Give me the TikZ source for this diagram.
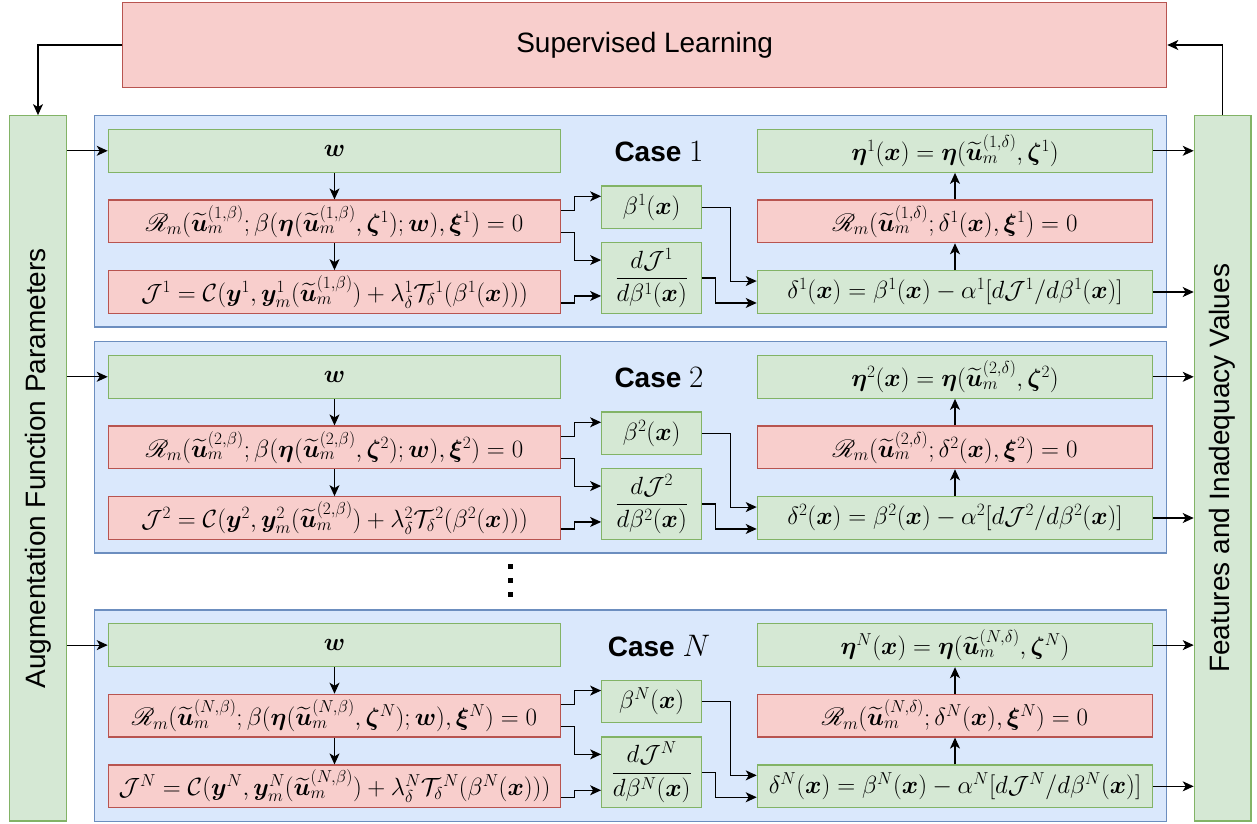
\documentclass[tikz,border=0pt]{standalone}
\usepackage{amsmath,amssymb}
\usepackage{graphicx}
\usepackage{bm}
\usepackage{mathrsfs}
\usepackage[no-math]{fontspec}
\newfontfamily\sansf{Liberation Sans}
\usetikzlibrary{arrows.meta,calc}
\definecolor{gfill}{HTML}{D5E8D4}
\definecolor{gdraw}{HTML}{82B366}
\definecolor{rfill}{HTML}{F8CECC}
\definecolor{rdraw}{HTML}{B85450}
\definecolor{bfill}{HTML}{DAE8FC}
\definecolor{bdraw}{HTML}{6C8EBF}
\tikzset{
  gbox/.style={draw=gdraw, fill=gfill, line width=1.2pt, inner sep=0pt, rectangle, font=\fontsize{24}{28}\selectfont},
  rbox/.style={draw=rdraw, fill=rfill, line width=1.2pt, inner sep=0pt, rectangle, font=\fontsize{24}{28}\selectfont},
  panel/.style={draw=bdraw, fill=bfill, line width=1.2pt, inner sep=0pt, rectangle},
  arr/.style={-{Stealth[length=11pt,width=10pt,inset=3pt]}, line width=1.1pt, black},
  bigtext/.style={font=\sansf\fontsize{28}{32}\selectfont},
  casetext/.style={font=\sansf\bfseries\fontsize{28}{32}\selectfont},
}
\newcommand\drawcase[3]{%
\begin{scope}[yshift=#1]
  \node[panel, minimum width=1072.4pt, minimum height=211.3pt] (P#3) at (630.5,221.35) {};
  \node[gbox, minimum width=452.4pt, minimum height=43pt] (w#3) at (334.5,150.8) {$\bm{w}$};
  \node[rbox, minimum width=452.4pt, minimum height=42.7pt] (R#3) at (334.5,221.35)
    {$\mathscr{R}_m(\widetilde{\bm{u}}_m^{(#2,\beta)};\beta(\bm{\eta}(\widetilde{\bm{u}}_m^{(#2,\beta)},\bm{\zeta}^{#2});\bm{w}),\bm{\xi}^{#2})=0$};
  \node[rbox, minimum width=452.4pt, minimum height=42.6pt] (J#3) at (334.5,292)
    {$\mathcal{J}^{#2}=\mathcal{C}(\bm{y}^{#2},\bm{y}_m^{#2}(\widetilde{\bm{u}}_m^{(#2,\beta)})+\lambda_\delta^{#2}\mathcal{T}_\delta{}^{#2}(\beta^{#2}(\bm{x})))$};
  \node[gbox, minimum width=100pt, minimum height=42.3pt] (b#3) at (651.7,207.15) {$\beta^{#2}(\bm{x})$};
  \node[gbox, minimum width=100pt, minimum height=70.6pt] (dJ#3) at (651.7,278) {$\dfrac{d\mathcal{J}^{#2}}{d\beta^{#2}(\bm{x})}$};
  \node[gbox, minimum width=395.4pt, minimum height=43pt] (eta#3) at (955,150.8)
    {$\bm{\eta}^{#2}(\bm{x})=\bm{\eta}(\widetilde{\bm{u}}_m^{(#2,\delta)},\bm{\zeta}^{#2})$};
  \node[rbox, minimum width=395.4pt, minimum height=42.7pt] (Rd#3) at (955,221.35)
    {$\mathscr{R}_m(\widetilde{\bm{u}}_m^{(#2,\delta)};\delta^{#2}(\bm{x}),\bm{\xi}^{#2})=0$};
  \node[gbox, minimum width=395.4pt, minimum height=42.6pt] (d#3) at (955,292)
    {$\delta^{#2}(\bm{x})=\beta^{#2}(\bm{x})-\alpha^{#2}[d\mathcal{J}^{#2}/d\beta^{#2}(\bm{x})]$};
  \node[casetext] (L#3) at (659,152) {Case \scalebox{1.25}{$#2$}};
  \draw[arr] (w#3) -- (R#3);
  \draw[arr] (R#3) -- (J#3);
  \draw[arr] ($(R#3.north east)!0.25!(R#3.south east)$) -- ++(13,0) |- ($(b#3.north west)!0.25!(b#3.south west)$);
  \draw[arr] ($(R#3.north east)!0.75!(R#3.south east)$) -- ++(13,0) |- ($(dJ#3.north west)!0.25!(dJ#3.south west)$);
  \draw[arr] ($(J#3.north east)!0.75!(J#3.south east)$) -- ++(13,0) |- ($(dJ#3.north west)!0.75!(dJ#3.south west)$);
  \draw[arr] (b#3.east) -- ++(28.3,0) |- ($(d#3.north west)!0.25!(d#3.south west)$);
  \draw[arr] (dJ#3.east) -- ++(13.3,0) |- ($(d#3.north west)!0.75!(d#3.south west)$);
  \draw[arr] (d#3) -- (Rd#3);
  \draw[arr] (Rd#3) -- (eta#3);
  \draw[arr] (AF.east |- w#3.west) -- (w#3.west);
  \draw[arr] (eta#3.east) -- (eta#3.east -| FI.west);
  \draw[arr] (d#3.east) -- (d#3.east -| FI.west);
\end{scope}}
\begin{document}
\begin{tikzpicture}[x=1pt,y=-1pt]
\useasboundingbox (0,0) rectangle (1257,823);
\node[rbox, minimum width=1044pt, minimum height=84.6pt, bigtext] (SL) at (644.7,45) {Supervised Learning};
\node[gbox, minimum width=57.4pt, minimum height=705.3pt] (AF) at (38,468.35) {};
\node[bigtext, rotate=90] (AFt) at (AF.center) {Augmentation Function Parameters};
\node[gbox, minimum width=56.7pt, minimum height=705.3pt] (FI) at (1222.65,468.35) {};
\node[bigtext, rotate=90] (FIt) at (FI.center) {Features and Inadequacy Values};
\draw[arr] (SL.west) -| (AF.north);
\draw[arr] (FI.north) |- (SL.east);
\drawcase{0pt}{1}{a}
\drawcase{-226pt}{2}{b}
\drawcase{-494.3pt}{N}{c}
\fill (508.2,564.2) rectangle ++(5,5);
\fill (508.2,578.2) rectangle ++(5,5);
\fill (508.2,592.2) rectangle ++(5,5);
\end{tikzpicture}
\end{document}
